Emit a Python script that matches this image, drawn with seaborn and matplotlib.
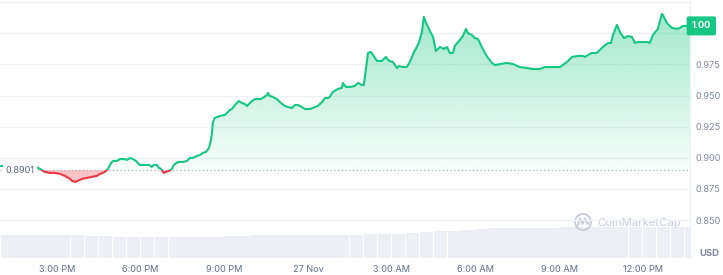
import numpy as np
import matplotlib
matplotlib.use("Agg")
import matplotlib.pyplot as plt
import seaborn as sns
from matplotlib.patches import Rectangle, PathPatch, Circle
from matplotlib.path import Path
from matplotlib.colors import LinearSegmentedColormap, to_rgb
from matplotlib.transforms import blended_transform_factory

# ---------------- data ----------------
# hours since 00:00 on 26 Nov (24 = 27 Nov 00:00)
hours = [12.99, 14.25, 14.39, 14.57, 14.75, 14.93, 15.11, 15.29, 15.47, 15.54, 15.65, 15.75,
         15.90, 16.08, 16.25, 16.43, 16.54, 16.65, 16.76, 16.83, 16.94, 17.01, 17.15, 17.26,
         17.40, 17.51, 17.62, 17.72, 17.83, 17.97, 18.12, 18.30, 18.40, 18.48, 18.58, 18.66,
         18.73, 18.83, 18.91, 19.01, 19.12, 19.19, 19.34, 19.52, 19.66, 19.77, 19.87, 20.02,
         20.13, 20.23, 20.34, 20.45, 20.52, 20.56, 20.59, 20.66, 20.84, 21.02, 21.13, 21.20,
         21.27, 21.38, 21.52, 21.63, 21.74, 21.81, 21.92, 21.99, 22.10, 22.28, 22.38, 22.53,
         22.56, 22.63, 22.74, 22.88, 22.99, 23.17, 23.28, 23.42, 23.53, 23.64, 23.78, 23.89,
         24.07, 24.25, 24.35, 24.50, 24.61, 24.71, 24.78, 24.89, 25.07, 25.21, 25.25, 25.36,
         25.50, 25.68, 25.79, 25.93, 26.00, 26.15, 26.25, 26.33, 26.47, 26.65, 26.79, 26.90,
         27.04, 27.19, 27.26, 27.40, 27.54, 27.65, 27.80, 27.90, 27.97, 28.08, 28.15, 28.23,
         28.37, 28.48, 28.58, 28.73, 28.87, 28.98, 29.08, 29.19, 29.26, 29.41, 29.55, 29.66,
         29.73, 29.87, 29.98, 30.09, 30.23, 30.34, 30.45, 30.59, 30.70, 30.88, 31.13, 31.34,
         31.59, 31.84, 32.06, 32.31, 32.49, 32.67, 33.03, 33.28, 33.46, 33.67, 33.85, 33.92,
         34.10, 34.17, 34.35, 34.46, 34.57, 34.75, 34.86, 34.93, 35.07, 35.18, 35.32, 35.47,
         35.61, 35.72, 35.82, 36.15, 36.25, 36.36, 36.54, 36.68, 36.72, 36.86, 37.04, 37.22,
         37.33, 37.43, 37.58, 37.69]
price = [0.8935, 0.8927, 0.8911, 0.8887, 0.8879, 0.8879, 0.8871, 0.8855, 0.8831, 0.8815, 0.8807, 0.8815,
         0.8831, 0.8839, 0.8847, 0.8855, 0.8871, 0.8879, 0.8895, 0.8911, 0.8959, 0.8975, 0.8975, 0.8991,
         0.8991, 0.8983, 0.8999, 0.8991, 0.8975, 0.8943, 0.8943, 0.8943, 0.8927, 0.8943, 0.8943, 0.8919,
         0.8911, 0.8879, 0.8887, 0.8895, 0.8911, 0.8943, 0.8967, 0.8967, 0.8975, 0.8999, 0.8999, 0.9015,
         0.9023, 0.9039, 0.9047, 0.9079, 0.9143, 0.9199, 0.9288, 0.9320, 0.9336, 0.9344, 0.9368, 0.9384,
         0.9392, 0.9424, 0.9456, 0.9440, 0.9432, 0.9416, 0.9440, 0.9456, 0.9472, 0.9472, 0.9480, 0.9505,
         0.9521, 0.9497, 0.9489, 0.9472, 0.9448, 0.9416, 0.9408, 0.9400, 0.9424, 0.9424, 0.9408, 0.9392,
         0.9392, 0.9408, 0.9416, 0.9448, 0.9480, 0.9480, 0.9489, 0.9529, 0.9553, 0.9561, 0.9601, 0.9569,
         0.9569, 0.9577, 0.9601, 0.9585, 0.9585, 0.9842, 0.9850, 0.9826, 0.9778, 0.9778, 0.9810, 0.9778,
         0.9770, 0.9721, 0.9737, 0.9729, 0.9729, 0.9770, 0.9850, 0.9890, 0.9922, 1.0010, 1.0131, 1.0083,
         1.0018, 0.9970, 0.9858, 0.9890, 0.9874, 0.9890, 0.9842, 0.9842, 0.9898, 0.9938, 0.9978, 1.0035,
         1.0002, 0.9986, 0.9962, 0.9954, 0.9890, 0.9842, 0.9802, 0.9762, 0.9745, 0.9753, 0.9762, 0.9753,
         0.9729, 0.9721, 0.9713, 0.9713, 0.9729, 0.9729, 0.9729, 0.9770, 0.9810, 0.9818, 0.9818, 0.9810,
         0.9834, 0.9842, 0.9842, 0.9866, 0.9890, 0.9922, 0.9922, 0.9986, 1.0067, 1.0010, 0.9962, 0.9978,
         0.9970, 0.9922, 0.9930, 0.9930, 0.9922, 0.9986, 1.0035, 1.0155, 1.0147, 1.0083, 1.0043, 1.0035,
         1.0043, 1.0059, 1.0059, 1.0059]

vol_hours = [13.0, 13.5, 14.0, 14.5, 15.0, 15.5, 16.0, 16.5, 17.0, 17.5, 18.0, 18.5, 19.0, 19.5,
             20.0, 20.5, 21.0, 21.5, 22.0, 22.5, 23.0, 23.5, 24.0, 24.5, 25.0, 25.5, 26.0, 26.5,
             27.0, 27.5, 28.0, 28.5, 29.0, 29.5, 30.0, 30.5, 31.0, 31.5, 32.0, 32.5, 33.0, 33.5,
             34.0, 34.5, 35.0, 35.5, 36.0, 36.5, 37.0, 37.5]
vol_24h = [23.0, 23.0, 23.0, 23.0, 23.0, 22.8, 22.0, 22.0, 20.7, 20.7, 20.7, 20.7, 20.6, 20.5,
           20.5, 20.5, 22.0, 22.0, 23.0, 23.0, 23.0, 23.0, 23.0, 23.0, 23.0, 23.0, 23.7, 23.7,
           23.7, 24.5, 26.0, 27.3, 27.3, 28.0, 29.3, 30.0, 30.3, 30.3, 30.3, 30.3, 30.5, 31.0,
           31.0, 31.0, 31.0, 31.0, 31.0, 31.0, 31.0, 31.0]

baseline = 0.8901
baseline_label = "0.8901"
last_label = "1.00"
x_ticks = [15, 18, 21, 24, 27, 30, 33, 36]
x_labels = ["3:00 PM", "6:00 PM", "9:00 PM", "27 Nov", "3:00 AM", "6:00 AM", "9:00 AM", "12:00 PM"]
y_ticks = [0.850, 0.875, 0.900, 0.925, 0.950, 0.975, 1.000, 1.025]
y_labels = ["0.850", "0.875", "0.900", "0.925", "0.950", "0.975", "", ""]

GREEN = "#16c784"
RED = "#ea3943"
GRID = "#eff2f5"
LABEL = "#808a9d"

# ---------------- figure ----------------
sns.set_theme(style="white")
plt.rcParams['font.family'] = ['Inter', 'DejaVu Sans']

W, H = 723, 275
fig = plt.figure(figsize=(W / 100, H / 100), dpi=100)
fig.patch.set_facecolor("white")
ax = fig.add_axes([0, 1 - 258 / H, 690 / W, 257 / H])

XMIN, XMAX = 12.96, 37.69
YMIN, YMAX = 0.8196, 1.0259

# volume bars on twin axis
axv = ax.twinx()
axv.bar(vol_hours, vol_24h, width=0.485, align="edge", color="#eceff3", linewidth=0)
axv.set_ylim(0, 256)
axv.set_yticks([])
for s in axv.spines.values():
    s.set_visible(False)
axv.set_zorder(0)
ax.set_zorder(1)
ax.patch.set_visible(False)

# gradient fill above baseline
p = np.array(price)
h = np.array(hours)
top_vals = np.maximum(p, baseline)
verts = list(zip(h, top_vals)) + [(h[-1], baseline), (h[0], baseline), (h[0], top_vals[0])]
codes = [Path.MOVETO] + [Path.LINETO] * (len(verts) - 2) + [Path.CLOSEPOLY]
patch = PathPatch(Path(verts, codes), facecolor="none", edgecolor="none", transform=ax.transData)
ax.add_patch(patch)
g = to_rgb(GREEN)
cmap = LinearSegmentedColormap.from_list("g", [(*g, 0.03), (*g, 0.40)])
grad = np.linspace(0, 1, 256).reshape(-1, 1)
img = ax.imshow(grad, extent=[XMIN, XMAX, baseline, 1.016], origin="lower", aspect="auto",
                cmap=cmap, zorder=1, interpolation="bilinear")
img.set_clip_path(patch)

# red fill below baseline
ax.fill_between(h, p, baseline, where=p < baseline, interpolate=True, color=RED, alpha=0.3,
                linewidth=0, zorder=1)

# baseline dotted
ax.axhline(baseline, color="#a6b0c3", linestyle=(0, (1, 2)), linewidth=0.9, zorder=2)

# price line: green above, red below baseline
sns.lineplot(x=hours, y=price, ax=ax, color=GREEN, linewidth=1.5, estimator=None, zorder=3)
lg = ax.lines[-1]
lg.set_clip_path(Rectangle((XMIN, baseline), XMAX - XMIN, 1, transform=ax.transData))
sns.lineplot(x=hours, y=price, ax=ax, color=RED, linewidth=1.5, estimator=None, zorder=3)
lr = ax.lines[-1]
lr.set_clip_path(Rectangle((XMIN, baseline - 1), XMAX - XMIN, 1, transform=ax.transData))

ax.set_xlim(XMIN, XMAX)
ax.set_ylim(YMIN, YMAX)
axv.set_xlim(XMIN, XMAX)

ax.set_yticks(y_ticks)
ax.set_yticklabels(y_labels)
ax.yaxis.tick_right()
ax.grid(axis="y", color=GRID, linewidth=1)
ax.grid(axis="x", visible=False)
ax.set_xticks(x_ticks)
ax.set_xticklabels(x_labels)
ax.tick_params(axis="y", length=0, pad=4, labelsize=6.6, labelcolor=LABEL)
ax.tick_params(axis="x", length=0, pad=5, labelsize=6.6, labelcolor="#616e85")
ax.set_xlabel("")
ax.set_ylabel("")
for name, s in ax.spines.items():
    s.set_visible(name == "right")
ax.spines["right"].set_color(GRID)
ax.spines["right"].set_linewidth(1)

# baseline label (left)
ax.text(0.008, baseline, baseline_label, transform=blended_transform_factory(ax.transAxes, ax.transData),
        ha="left", va="center", fontsize=6.6, color="#58667e", zorder=5,
        bbox=dict(boxstyle="square,pad=0.25", fc="white", ec="none"))

# last price box
ax.text(1.0025, price[-1], last_label, transform=blended_transform_factory(ax.transAxes, ax.transData),
        ha="left", va="center", fontsize=6.6, color="white", fontweight="bold", zorder=6, clip_on=False,
        bbox=dict(boxstyle="round,pad=0.55,rounding_size=0.2", fc=GREEN, ec="none"))

# overlay for decorations (pixel coordinates)
ov = fig.add_axes([0, 0, 1, 1])
ov.set_xlim(0, W)
ov.set_ylim(H, 0)
ov.axis("off")
ov.patch.set_visible(False)
ov.text(709, 254, "USD", ha="center", va="center", fontsize=6.8, fontweight="bold", color=LABEL)
wm = "#c5ccd8"
ov.add_patch(Circle((583, 222), 8, fill=False, edgecolor=wm, linewidth=1.3))
ov.plot([577.5, 580, 582.5, 585, 587.5, 589], [226, 218.5, 224, 218.5, 224, 223], color=wm, linewidth=1.3)
ov.text(597, 222.5, "CoinMarketCap", ha="left", va="center", fontsize=8.2, color=wm)

fig.savefig("out.png", dpi=100, facecolor="white")
